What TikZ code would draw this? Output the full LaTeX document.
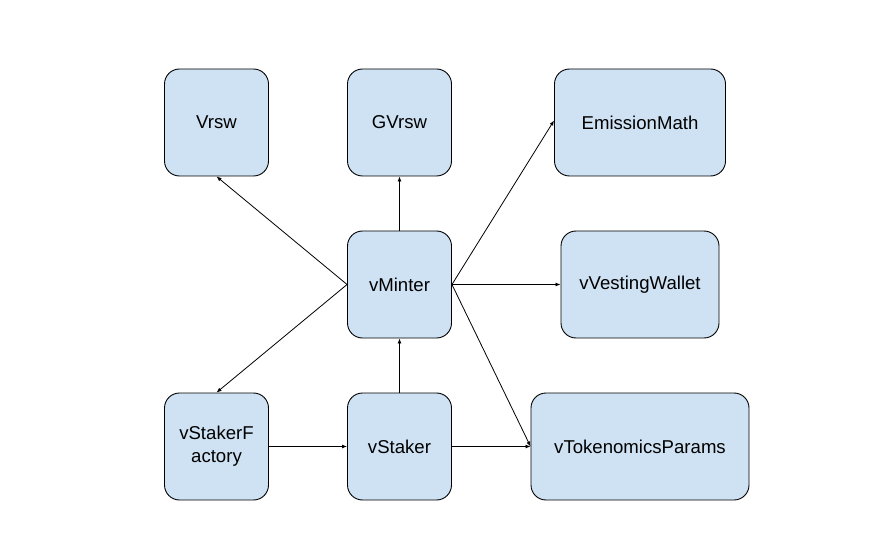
\documentclass[tikz,border=0pt]{standalone}
\usepackage{fontspec}
\setmainfont{Liberation Sans}
\usetikzlibrary{arrows.meta}
\definecolor{boxfill}{HTML}{CFE2F3}
\begin{document}
\begin{tikzpicture}[x=1pt,y=-1pt,
  box/.style={draw=black, fill=boxfill, line width=0.9pt, rounded corners=15pt,
    minimum height=107pt, align=center, inner sep=0pt,
    font=\fontsize{18.6}{23}\selectfont},
  conn/.style={line width=0.8pt, -{Latex[length=5pt,width=4pt]}}]
\useasboundingbox (0,0) rectangle (884,556);
\node[box, minimum width=104pt] (vrsw) at (216.5,122.5) {Vrsw};
\node[box, minimum width=104pt] (gvrsw) at (399.5,122.5) {GVrsw};
\node[box, minimum width=171pt] (emis) at (640,122.5) {EmissionMath};
\node[box, minimum width=104pt] (minter) at (399.5,284.5) {vMinter};
\node[box, minimum width=158pt] (vest) at (640,284.5) {vVestingWallet};
\node[box, minimum width=104pt] (fact) at (216.5,446.5) {vStakerF\\actory};
\node[box, minimum width=104pt] (staker) at (399.5,446.5) {vStaker};
\node[box, minimum width=218pt] (tok) at (640,446.5) {vTokenomicsParams};
\draw[conn] (minter.west) -- (vrsw.south);
\draw[conn] (minter.west) -- (fact.north);
\draw[conn] (minter.north) -- (gvrsw.south);
\draw[conn] (minter.east) -- ([yshift=2pt]emis.west);
\draw[conn] (minter.east) -- (vest.west);
\draw[conn] (minter.east) -- (tok.west);
\draw[conn] (fact.east) -- (staker.west);
\draw[conn] (staker.east) -- (tok.west);
\draw[conn] (staker.north) -- (minter.south);
\end{tikzpicture}
\end{document}
